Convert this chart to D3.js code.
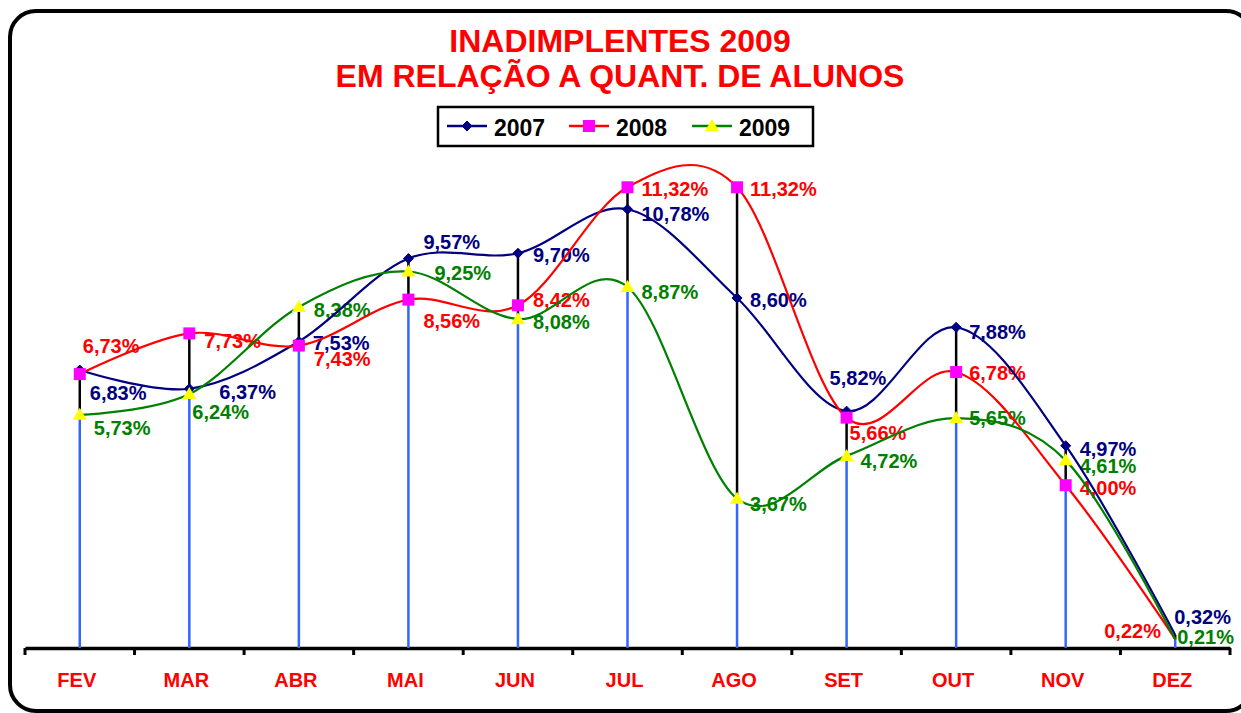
<!DOCTYPE html>
<html>
<head>
<meta charset="utf-8">
<script src="https://d3js.org/d3.v7.min.js"></script>
<style>
  html, body { margin: 0; padding: 0; background: #fff; }
  svg { display: block; font-family: "Liberation Sans", Arial, sans-serif; }
</style>
</head>
<body>
<svg id="chart" width="1241" height="713"></svg>
<script>
// ---- data ----
const months = ["FEV", "MAR", "ABR", "MAI", "JUN", "JUL", "AGO", "SET", "OUT", "NOV", "DEZ"];
const series2007 = [6.83, 6.37, 7.53, 9.57, 9.70, 10.78, 8.60, 5.82, 7.88, 4.97, 0.32];
const series2008 = [6.73, 7.73, 7.43, 8.56, 8.42, 11.32, 11.32, 5.66, 6.78, 4.00, 0.22];
const series2009 = [5.73, 6.24, 8.38, 9.25, 8.08, 8.87, 3.67, 4.72, 5.65, 4.61, 0.21];
const seriesNames = ["2007", "2008", "2009"];
const titleLines = ["INADIMPLENTES 2009", "EM RELAÇÃO A QUANT. DE ALUNOS"];

// ---- layout (label offsets in px relative to each point) ----
const labelOffsets = [
  [[10,23],[30,3],[14,1],[15,-17],[15,2],[14,5],[13,2],[-17,-33],[13,5],[14,3],[-1,-18]],
  [[3,-28],[15,7],[15,13],[15,21],[15,-6],[14,2],[13,2],[3,15],[13,1],[14,3],[-71,-8]],
  [[14,13],[3,18],[15,3],[26,1],[15,3],[14,5],[13,5],[14,5],[13,0],[14,5],[2,-3]]
];
const colors = ["#000080", "#FF0000", "#008000"];

const svg = d3.select("#chart");
const seriesData = [series2007, series2008, series2009];

// frame
svg.append("rect")
  .attr("x", 10).attr("y", 11).attr("width", 1242).attr("height", 700)
  .attr("rx", 26).attr("ry", 26)
  .attr("fill", "#fff").attr("stroke", "#000").attr("stroke-width", 4);

// title
svg.selectAll("text.title").data(titleLines).enter().append("text")
  .attr("class", "title")
  .attr("x", 620).attr("y", (d, i) => 52 + i * 35)
  .attr("text-anchor", "middle")
  .attr("font-size", 32).attr("font-weight", "bold").attr("fill", "#FF0000")
  .text(d => d);

// scales
const x = d3.scaleBand().domain(months).range([25, 1230]).padding(0);
const y = d3.scaleLinear().domain([0, 12]).range([648, 648 - 12 * 40.7]);
const cx = m => x(m) + x.bandwidth() / 2;

// axis
const axisG = svg.append("g").attr("transform", `translate(0,${y(0)})`);
axisG.call(d3.axisBottom(x).tickSize(0).tickPadding(25).tickFormat(d => d));
axisG.select(".domain").attr("stroke", "#000").attr("stroke-width", 3.5);
axisG.selectAll(".tick text")
  .attr("fill", "#FF0000").attr("font-size", 20).attr("font-weight", "bold")
  .attr("dx", -3)
  .attr("font-family", "Liberation Sans, Arial, sans-serif");
// boundary tick marks
const bounds = months.map(m => x(m)).concat([x(months[months.length - 1]) + x.bandwidth()]);
axisG.selectAll("line.bound").data(bounds).enter().append("line")
  .attr("class", "bound")
  .attr("x1", d => d).attr("x2", d => d).attr("y1", 0).attr("y2", 7)
  .attr("stroke", "#000").attr("stroke-width", 3);

// drop lines and high-low lines
const rows = months.map((m, i) => {
  const vals = seriesData.map(s => s[i]);
  return { m, min: d3.min(vals), max: d3.max(vals) };
});
svg.selectAll("line.drop").data(rows).enter().append("line")
  .attr("x1", d => cx(d.m)).attr("x2", d => cx(d.m))
  .attr("y1", y(0)).attr("y2", d => y(d.min))
  .attr("stroke", "#3366FF").attr("stroke-width", 2.5);
svg.selectAll("line.hilo").data(rows).enter().append("line")
  .attr("x1", d => cx(d.m)).attr("x2", d => cx(d.m))
  .attr("y1", d => y(d.min)).attr("y2", d => y(d.max))
  .attr("stroke", "#000").attr("stroke-width", 2.5);

// labels
const fmt = v => v.toFixed(2).replace(".", ",") + "%";
seriesData.forEach((s, si) => {
  svg.append("g").selectAll("text").data(s).enter().append("text")
    .attr("x", (d, i) => cx(months[i]) + labelOffsets[si][i][0])
    .attr("y", (d, i) => y(d) + labelOffsets[si][i][1])
    .attr("dy", "0.36em")
    .attr("font-size", 20).attr("font-weight", "bold")
    .attr("fill", colors[si])
    .text(d => fmt(d));
});

// lines
const line = d3.line().x((d, i) => cx(months[i])).y(d => y(d)).curve(d3.curveCatmullRom.alpha(0));
seriesData.forEach((s, si) => {
  svg.append("path").datum(s)
    .attr("d", line).attr("fill", "none")
    .attr("stroke", colors[si]).attr("stroke-width", 2.2);
});

// markers
function drawMarker(g, type, px, py) {
  if (type === 0) {
    g.append("path").attr("d", `M${px},${py-5}L${px+5},${py}L${px},${py+5}L${px-5},${py}Z`)
      .attr("fill", "#000080").attr("stroke", "#000080").attr("stroke-width", 1);
  } else if (type === 1) {
    g.append("rect").attr("x", px - 6).attr("y", py - 6).attr("width", 12).attr("height", 12)
      .attr("fill", "#FF00FF");
  } else {
    g.append("path").attr("d", `M${px},${py-7}L${px+7},${py+5}L${px-7},${py+5}Z`)
      .attr("fill", "#FFFF00");
  }
}
const mg = svg.append("g");
seriesData.forEach((s, si) => {
  s.forEach((v, i) => { if (i < months.length - 1) drawMarker(mg, si, cx(months[i]), y(v)); });
});

// legend
const lg = svg.append("g");
lg.append("rect").attr("x", 438).attr("y", 107).attr("width", 375).attr("height", 39)
  .attr("fill", "#fff").attr("stroke", "#000").attr("stroke-width", 2.5);
const legX = [447, 569, 692];
seriesNames.forEach((name, si) => {
  lg.append("line").attr("x1", legX[si]).attr("x2", legX[si] + 40)
    .attr("y1", 126).attr("y2", 126)
    .attr("stroke", colors[si]).attr("stroke-width", 2.5);
  drawMarker(lg, si, legX[si] + 20, 126);
  lg.append("text").attr("x", legX[si] + 47).attr("y", 136)
    .attr("font-size", 23).attr("font-weight", "bold").attr("fill", "#000")
    .text(name);
});
</script>
</body>
</html>
